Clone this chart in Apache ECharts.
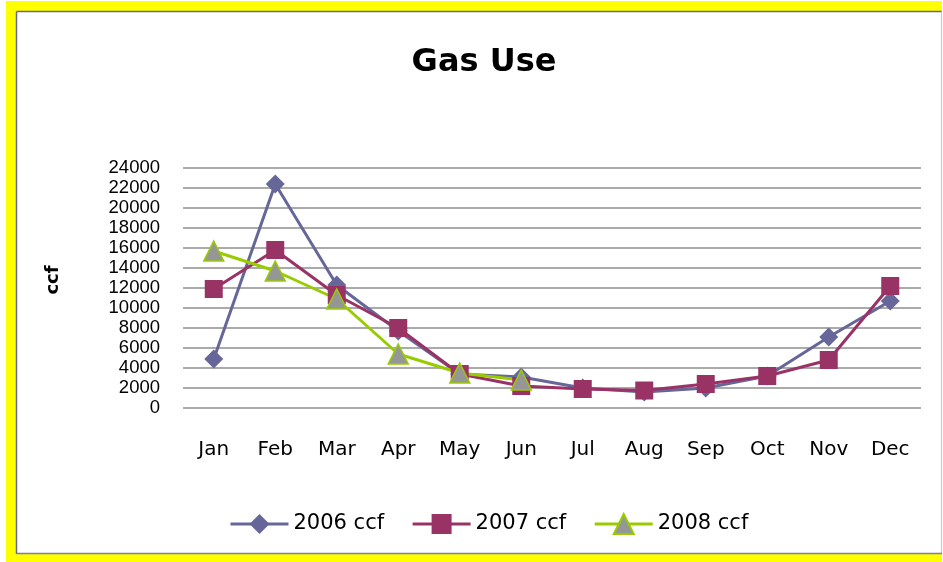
<!DOCTYPE html>
<html>
<head>
<meta charset="utf-8">
<script src="https://cdn.jsdelivr.net/npm/echarts@6/dist/echarts.min.js"></script>
<style>
html,body{margin:0;padding:0;background:#fff;}
#chart{width:943px;height:562px;}
</style>
</head>
<body>
<div id="chart"></div>
<script>
var titleText = 'Gas Use';
var yAxisTitle = 'ccf';
var months = ['Jan','Feb','Mar','Apr','May','Jun','Jul','Aug','Sep','Oct','Nov','Dec'];
var seriesNames = ['2006 ccf','2007 ccf','2008 ccf'];
var gas2006 = [4900, 22400, 12300, 7700, 3400, 3100, 2000, 1600, 2000, 3200, 7100, 10700];
var gas2007 = [11900, 15800, 11300, 8000, 3400, 2200, 1900, 1750, 2400, 3200, 4800, 12200];
var gas2008 = [15700, 13700, 10900, 5400, 3500, 2800, null, null, null, null, null, null];
var yMin = 0, yMax = 24000, yStep = 2000;

var FONT = 'DejaVu Sans';
var chart = echarts.init(document.getElementById('chart'), null, {renderer:'canvas'});
chart.setOption({
  animation: false,
  backgroundColor: '#ffffff',
  graphic: { elements: [
    {type:'rect', z:-20, silent:true, shape:{x:6,y:1,width:936,height:570}, style:{fill:'#ffff00'}},
    {type:'rect', z:-19, silent:true, shape:{x:16,y:11,width:926,height:543}, style:{fill:'#ffffff'}},
    {type:'line', z:-18, silent:true, shape:{x1:16.5,y1:11.5,x2:942,y2:11.5}, style:{stroke:'#666699',lineWidth:1.5}},
    {type:'line', z:-18, silent:true, shape:{x1:16.5,y1:11.5,x2:16.5,y2:554}, style:{stroke:'#666699',lineWidth:1.5}},
    {type:'line', z:-18, silent:true, shape:{x1:941.5,y1:11.5,x2:941.5,y2:554}, style:{stroke:'#c8c8e4',lineWidth:1.2}},
    {type:'line', z:-18, silent:true, shape:{x1:16.5,y1:553.5,x2:942,y2:553.5}, style:{stroke:'#7c7ca6',lineWidth:1.5}},
    {type:'text', z:5, silent:true, x:53, y:280, rotation:Math.PI/2,
      style:{text:yAxisTitle, font:'bold 18px "DejaVu Sans"', fill:'#000', align:'center', verticalAlign:'middle'}}
  ]},
  title: {
    text: titleText,
    left: 479, top: 42, textAlign: 'center',
    textStyle: {fontFamily: FONT, fontSize: 32, fontWeight: 'bold', color: '#000', lineHeight: 32}
  },
  legend: {
    data: seriesNames,
    left: 224, top: 508,
    itemWidth: 58, itemHeight: 25, itemGap: 27,
    lineStyle: {width: 3},
    textStyle: {fontFamily: FONT, fontSize: 21, color: '#000', padding:[0,0,0,0]}
  },
  grid: {left: 183, right: 22, top: 168, bottom: 154, containLabel: false},
  xAxis: {
    type: 'category', data: months, boundaryGap: true,
    axisLine: {show: false}, axisTick: {show: false},
    axisLabel: {fontFamily: FONT, fontSize: 20, color: '#000', margin: 32, lineHeight: 20}
  },
  yAxis: {
    type: 'value', min: yMin, max: yMax, interval: yStep,
    axisLine: {show: false}, axisTick: {show: false},
    axisLabel: {fontFamily: '"Liberation Sans"', fontSize: 18.5, color: '#000', margin: 23,
      formatter: function (v) { return String(v); }},
    splitLine: {lineStyle: {color: '#8e8e8e', width: 1.5}}
  },
  series: [
    {name: seriesNames[0], type: 'line', data: gas2006, symbol: 'diamond', symbolSize: 19,
     lineStyle: {color: '#666699', width: 3}, itemStyle: {color: '#666699'}},
    {name: seriesNames[1], type: 'line', data: gas2007, symbol: 'rect', symbolSize: 18,
     lineStyle: {color: '#993366', width: 3}, itemStyle: {color: '#993366'}},
    {name: seriesNames[2], type: 'line', data: gas2008, symbol: 'triangle', symbolSize: 20,
     lineStyle: {color: '#99cc00', width: 3}, itemStyle: {color: '#969696', borderColor: '#99cc00', borderWidth: 1.5}}
  ]
});
</script>
</body>
</html>
